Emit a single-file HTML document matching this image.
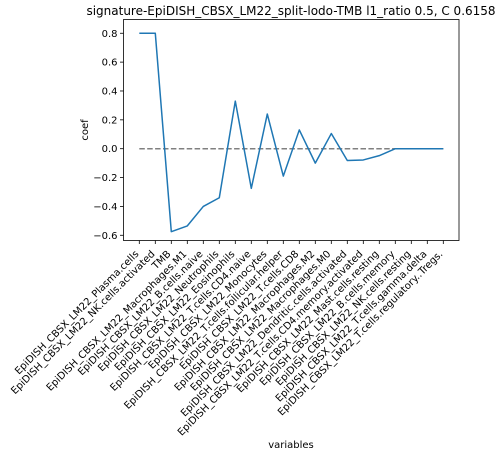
<!DOCTYPE html>
<html><head><meta charset="utf-8"><style>
body{margin:0;background:#fff;}
svg{font-family:"DejaVu Sans","Liberation Sans",sans-serif;}
</style></head><body>
<svg id="chart" width="503" height="458"></svg>
<script>
const categories=["EpiDISH_CBSX_LM22_Plasma.cells","EpiDISH_CBSX_LM22_NK.cells.activated","TMB","EpiDISH_CBSX_LM22_Macrophages.M1","EpiDISH_CBSX_LM22_B.cells.naive","EpiDISH_CBSX_LM22_Neutrophils","EpiDISH_CBSX_LM22_Eosinophils","EpiDISH_CBSX_LM22_T.cells.CD4.naive","EpiDISH_CBSX_LM22_Monocytes","EpiDISH_CBSX_LM22_T.cells.follicular.helper","EpiDISH_CBSX_LM22_T.cells.CD8","EpiDISH_CBSX_LM22_Macrophages.M2","EpiDISH_CBSX_LM22_Macrophages.M0","EpiDISH_CBSX_LM22_Dendritic.cells.activated","EpiDISH_CBSX_LM22_T.cells.CD4.memory.activated","EpiDISH_CBSX_LM22_Mast.cells.resting","EpiDISH_CBSX_LM22_B.cells.memory","EpiDISH_CBSX_LM22_NK.cells.resting","EpiDISH_CBSX_LM22_T.cells.gamma.delta","EpiDISH_CBSX_LM22_T.cells.regulatory..Tregs."];
const coefValues=[0.8,0.8,-0.575,-0.535,-0.40,-0.34,0.33,-0.275,0.24,-0.19,0.13,-0.10,0.105,-0.082,-0.078,-0.048,0,0,0,0];
const yTicks=[0.8,0.6,0.4,0.2,0.0,-0.2,-0.4,-0.6];
const yTickLabels=["0.8","0.6","0.4","0.2","0.0","\u22120.2","\u22120.4","\u22120.6"];

const NS="http://www.w3.org/2000/svg";
const svg=document.getElementById('chart');
const L=123.5,R=459,T=19.5,B=240.5;
const x0=139.3,dx=(443.3-139.3)/(categories.length-1);
const xs=i=>x0+i*dx;
const ys=v=>148.7-v*(28.86/0.2);
function mk(tag,attrs,parent){const e=document.createElementNS(NS,tag);for(const k in attrs)e.setAttribute(k,attrs[k]);(parent||svg).appendChild(e);return e;}

const title=mk('text',{x:291,y:15,'text-anchor':'middle','font-size':'12',fill:'#000'});


title.textContent="signature-EpiDISH_CBSX_LM22_split-lodo-TMB l1_ratio 0.5, C 0.6158";

const zl=mk('line',{x1:xs(0),x2:xs(categories.length-1),y1:ys(0),y2:ys(0),stroke:'#808080','stroke-width':1.5,'stroke-dasharray':'5.5,2.4'});



const pts=coefValues.map((v,i)=>xs(i).toFixed(2)+','+ys(v).toFixed(2)).join(' ');
const line=mk('polyline',{points:pts,fill:'none',stroke:'#1f77b4','stroke-width':1.5,'stroke-linejoin':'round'});



const fr=mk('rect',{x:L,y:T,width:R-L,height:B-T,fill:'none',stroke:'#000','stroke-width':0.8});



yTicks.forEach((v,i)=>{
  const y=ys(v);
  const t=mk('line',{x1:L-3.5,x2:L,y1:y,y2:y,stroke:'#000','stroke-width':0.8});
  
  
  const lb=mk('text',{x:L-6,y:y+3.5,'text-anchor':'end','font-size':'10',fill:'#000'});
  
  
  lb.textContent=yTickLabels[i];
});

categories.forEach((c,i)=>{
  const x=xs(i);
  const t=mk('line',{x1:x,x2:x,y1:B,y2:B+3.5,stroke:'#000','stroke-width':0.8});
  
  
  const ax=x, ay=B+14;
  const lb=mk('text',{x:ax,y:ay,'text-anchor':'end','font-size':'10',fill:'#000',transform:`rotate(-45 ${ax} ${ay})`});
  
  
  lb.textContent=c;
});

const yl=mk('text',{x:0,y:0,'text-anchor':'middle','font-size':'10',fill:'#000',transform:'translate(88,130) rotate(-90)'});


yl.textContent='coef';
const xl=mk('text',{x:291,y:448,'text-anchor':'middle','font-size':'10',fill:'#000'});


xl.textContent='variables';
</script>
</body></html>
